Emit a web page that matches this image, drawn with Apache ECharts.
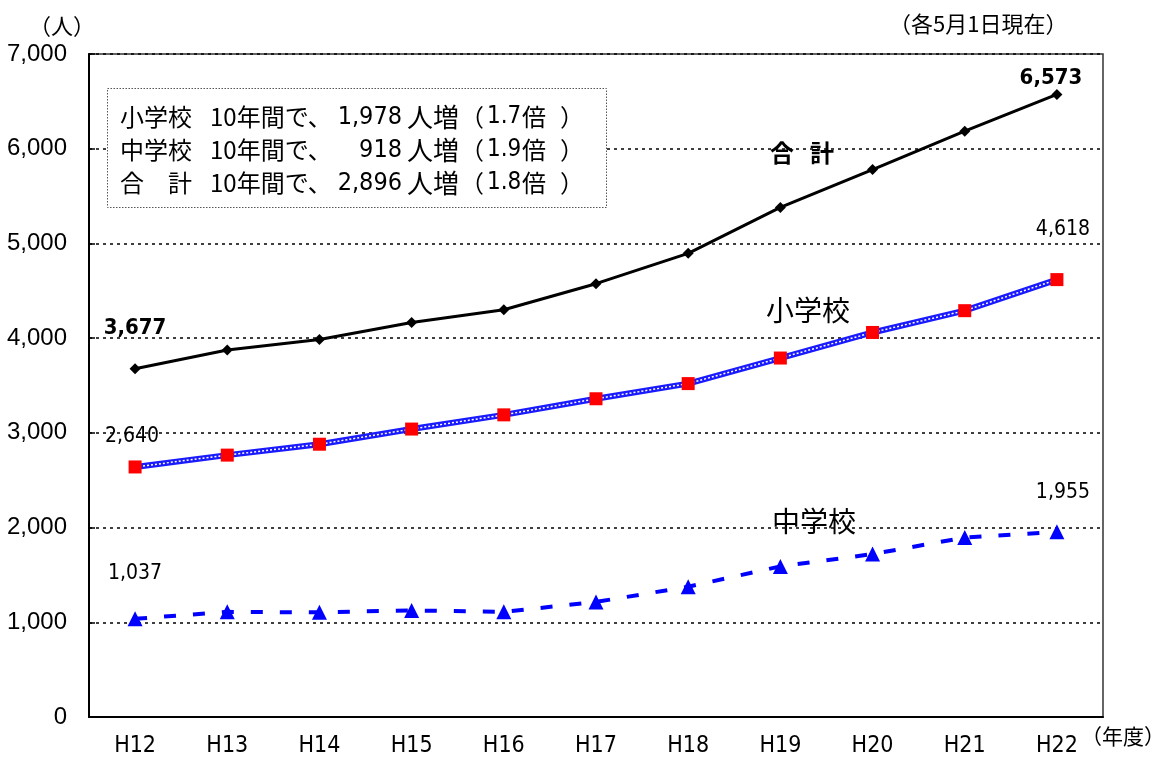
<!DOCTYPE html>
<html><head><meta charset="utf-8">
<script src="https://cdn.jsdelivr.net/npm/echarts@6/dist/echarts.min.js"></script>
<style>html,body{margin:0;padding:0;background:#fff}#c{width:1154px;height:764px}</style>
</head><body><div id="c"></div>
<script>
var categories = ['H12','H13','H14','H15','H16','H17','H18','H19','H20','H21','H22'];
var elementary = [2640,2765,2880,3040,3190,3360,3520,3790,4060,4290,4618];
var juniorHigh = [1037,1110,1105,1125,1110,1215,1375,1590,1720,1895,1955];
var total = [3677,3875,3985,4165,4300,4575,4895,5380,5780,6185,6573];
var yTicks = [0,1000,2000,3000,4000,5000,6000,7000];
var boxRows = [
  ['小学校','1,978','1.7'],
  ['中学校','918','1.9'],
  ['合　計','2,896','1.8']
];

var F = '"Noto Sans CJK JP", "Noto Sans", sans-serif';
var NUMF = '"DejaVu Sans Condensed", "Noto Sans CJK JP", sans-serif';

function fmt(v){return v.toLocaleString('en-US');}

function endLabels(arr, first, last){
  return arr.map(function(v,i){
    if(i===0) return {value:v, label:Object.assign({show:true, formatter:fmt(v)}, first)};
    if(i===arr.length-1) return {value:v, label:Object.assign({show:true, formatter:fmt(v)}, last)};
    return v;
  });
}

var baseLbl = {fontFamily:NUMF, fontSize:21, color:'#000', position:'top'};

var graphics = [
  {type:'rect', shape:{x:107.5,y:88.5,width:499,height:119}, style:{fill:'#fff', stroke:'#555', lineWidth:1, lineDash:[1.5,1.5]}, z:10},
  {type:'text', x:29, y:26, style:{text:'（人）', font:'22px '+F, fill:'#000', verticalAlign:'middle'}},
  {type:'text', x:889, y:24, style:{text:'（各5月1日現在）', font:'22px '+F, fill:'#000', verticalAlign:'middle'}},
  {type:'text', x:1165, y:736, style:{text:'（年度）', font:'21px '+F, fill:'#000', verticalAlign:'middle', align:'right'}},
  {type:'text', x:770, y:153, style:{text:'合', font:'bold 24px '+F, fill:'#000', verticalAlign:'middle'}},
  {type:'text', x:810, y:153, style:{text:'計', font:'bold 24px '+F, fill:'#000', verticalAlign:'middle'}},
  {type:'text', x:766, y:310, style:{text:'小学校', font:'28px '+F, fill:'#000', verticalAlign:'middle'}},
  {type:'text', x:772, y:521, style:{text:'中学校', font:'28px '+F, fill:'#000', verticalAlign:'middle'}}
];
boxRows.forEach(function(r,i){
  var y = 117 + i*33;
  var common = {fill:'#000', verticalAlign:'middle'};
  graphics.push({type:'text', x:120, y:y, z:11, style:Object.assign({text:r[0], font:'24px '+F}, common)});
  graphics.push({type:'text', x:210, y:y, z:11, style:Object.assign({text:'10年間で、', font:'24px '+F}, common)});
  graphics.push({type:'text', x:402, y:y, z:11, style:Object.assign({text:r[1], font:'25px '+NUMF, align:'right'}, common)});
  graphics.push({type:'text', x:407, y:y, z:11, style:Object.assign({text:'人増', font:'26px '+F}, common)});
  graphics.push({type:'text', x:460, y:y, z:11, style:Object.assign({text:'（', font:'24px '+F}, common)});
  graphics.push({type:'text', x:487, y:y, z:11, style:Object.assign({text:r[2], font:'24px '+NUMF}, common)});
  graphics.push({type:'text', x:522, y:y, z:11, style:Object.assign({text:'倍', font:'24px '+F}, common)});
  graphics.push({type:'text', x:560, y:y, z:11, style:Object.assign({text:'）', font:'24px '+F}, common)});
});

var chart = echarts.init(document.getElementById('c'));
chart.setOption({
  animation:false,
  backgroundColor:'#fff',
  grid:{left:89, right:51, top:54, bottom:47, show:true, borderColor:'#333', borderWidth:1.5, backgroundColor:'transparent'},
  xAxis:{type:'category', data:categories, boundaryGap:true,
    axisLine:{lineStyle:{color:'#000', width:2}},
    axisTick:{inside:true, length:7, lineStyle:{color:'#000', width:1.5}},
    axisLabel:{color:'#000', fontFamily:NUMF, fontSize:23, margin:18}},
  yAxis:{type:'value', min:0, max:7000, interval:1000,
    axisLine:{show:true, lineStyle:{color:'#000', width:2}},
    axisTick:{show:true, inside:true, length:6, lineStyle:{color:'#000', width:1.5}},
    axisLabel:{color:'#000', fontFamily:'"Liberation Sans", Arial, sans-serif', fontSize:24, margin:22,
      formatter:function(v){return yTicks.indexOf(v)>=0 ? fmt(v) : '';}},
    splitLine:{show:true, lineStyle:{color:'#000', width:1.5, type:[3,4]}}},
  graphic:graphics,
  series:[
    {name:'合計', type:'line', data:endLabels(total,
        {offset:[0,-19], fontWeight:'bold', fontSize:22},
        {offset:[-6,5], fontWeight:'bold', fontSize:22}),
      symbol:'diamond', symbolSize:11, lineStyle:{color:'#000', width:3}, itemStyle:{color:'#000'}, label:baseLbl, z:5},
    {name:'小学校', type:'line', data:elementary,
      symbol:'none', lineStyle:{color:'#1a1aff', width:6}, z:3},
    {name:'小学校_inner', type:'line', data:endLabels(elementary,
        {offset:[-3,-8]},
        {offset:[6,-28]}),
      symbol:'rect', symbolSize:13, label:baseLbl,
      itemStyle:{color:'#ff0000'}, lineStyle:{color:'#ffffff', width:1.5, type:[2,2]}, z:4},
    {name:'中学校', type:'line', data:endLabels(juniorHigh,
        {offset:[0,-22]},
        {offset:[6,-16]}),
      symbol:'triangle', symbolSize:15, lineStyle:{color:'#0000ff', width:4, type:[12,17]}, itemStyle:{color:'#0000ff'}, label:baseLbl, z:3}
  ]
});
</script></body></html>
